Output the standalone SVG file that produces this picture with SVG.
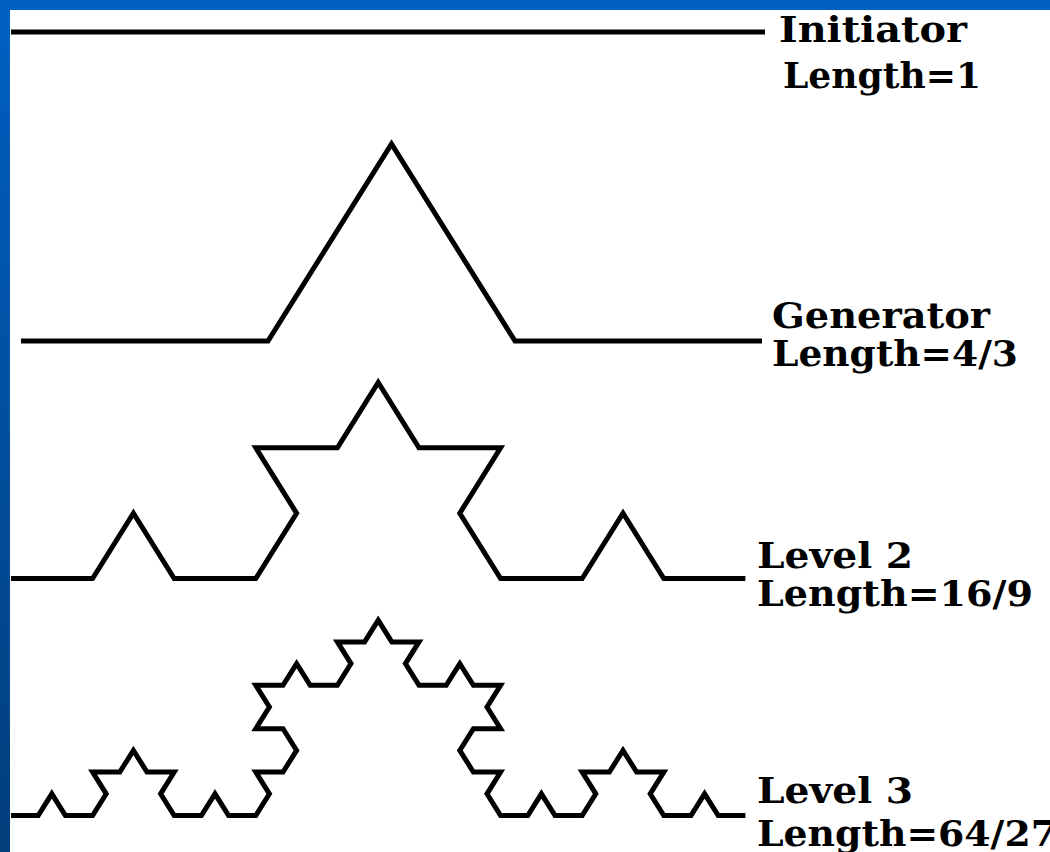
<svg xmlns="http://www.w3.org/2000/svg" width="1050" height="852" viewBox="0 0 1050 852">
  <defs>
    <linearGradient id="bg" x1="0" y1="0" x2="0" y2="1">
      <stop offset="0" stop-color="#0060C2"/>
      <stop offset="1" stop-color="#023E7B"/>
    </linearGradient>
  </defs>
  <style>
    .curve { fill: none; stroke: #000; stroke-width: 5; stroke-linejoin: miter; stroke-linecap: butt; }
    .lbl { font-family: "DejaVu Serif", "Liberation Serif", serif; font-weight: bold; font-size: 35px; fill: #000; }
  </style>
  <rect x="0" y="0" width="1050" height="852" fill="url(#bg)"/>
  <rect x="10" y="10" width="1040" height="842" fill="#FFFFFF"/>

  <g id="initiator">
    <line class="curve" x1="11" y1="32" x2="765" y2="32"/>
    <text class="lbl" x="779" y="42" textLength="188" lengthAdjust="spacingAndGlyphs">Initiator</text>
    <text class="lbl" x="783" y="88" textLength="198" lengthAdjust="spacingAndGlyphs">Length=1</text>
  </g>

  <g id="generator">
    <polyline class="curve" points="21,341 268,341 391.5,144 515,341 762,341"/>
    <text class="lbl" x="772" y="328" textLength="218" lengthAdjust="spacingAndGlyphs">Generator</text>
    <text class="lbl" x="772" y="366" textLength="246" lengthAdjust="spacingAndGlyphs">Length=4/3</text>
  </g>

  <g id="level2">
    <polyline class="curve" points="11,578.5 92.6,578.5 133.4,513.2 174.2,578.5 255.8,578.5 296.6,513.2 255.8,447.8 337.4,447.8 378.2,382.5 419,447.8 500.6,447.8 459.8,513.2 500.6,578.5 582.2,578.5 623,513.2 663.8,578.5 745.4,578.5"/>
    <text class="lbl" x="757" y="568" textLength="156" lengthAdjust="spacingAndGlyphs">Level 2</text>
    <text class="lbl" x="757" y="606" textLength="276" lengthAdjust="spacingAndGlyphs">Length=16/9</text>
  </g>

  <g id="level3">
    <polyline class="curve" points="11,815.5 38.2,815.5 51.8,793.8 65.4,815.5 92.6,815.5 106.2,793.8 92.6,772.1 119.8,772.1 133.4,750.4 147,772.1 174.2,772.1 160.6,793.8 174.2,815.5 201.4,815.5 215,793.8 228.6,815.5 255.8,815.5 269.4,793.8 255.8,772.1 283,772.1 296.6,750.4 283,728.7 255.8,728.7 269.4,707 255.8,685.3 283,685.3 296.6,663.6 310.2,685.3 337.4,685.3 351,663.6 337.4,641.9 364.6,641.9 378.2,620.2 391.8,641.9 419,641.9 405.4,663.6 419,685.3 446.2,685.3 459.8,663.6 473.4,685.3 500.6,685.3 487,707 500.6,728.7 473.4,728.7 459.8,750.4 473.4,772.1 500.6,772.1 487,793.8 500.6,815.5 527.8,815.5 541.4,793.8 555,815.5 582.2,815.5 595.8,793.8 582.2,772.1 609.4,772.1 623,750.4 636.6,772.1 663.8,772.1 650.2,793.8 663.8,815.5 691,815.5 704.6,793.8 718.2,815.5 745.4,815.5"/>
    <text class="lbl" x="757" y="803" textLength="156" lengthAdjust="spacingAndGlyphs">Level 3</text>
    <text class="lbl" x="757" y="846" textLength="300" lengthAdjust="spacingAndGlyphs">Length=64/27</text>
  </g>
</svg>
